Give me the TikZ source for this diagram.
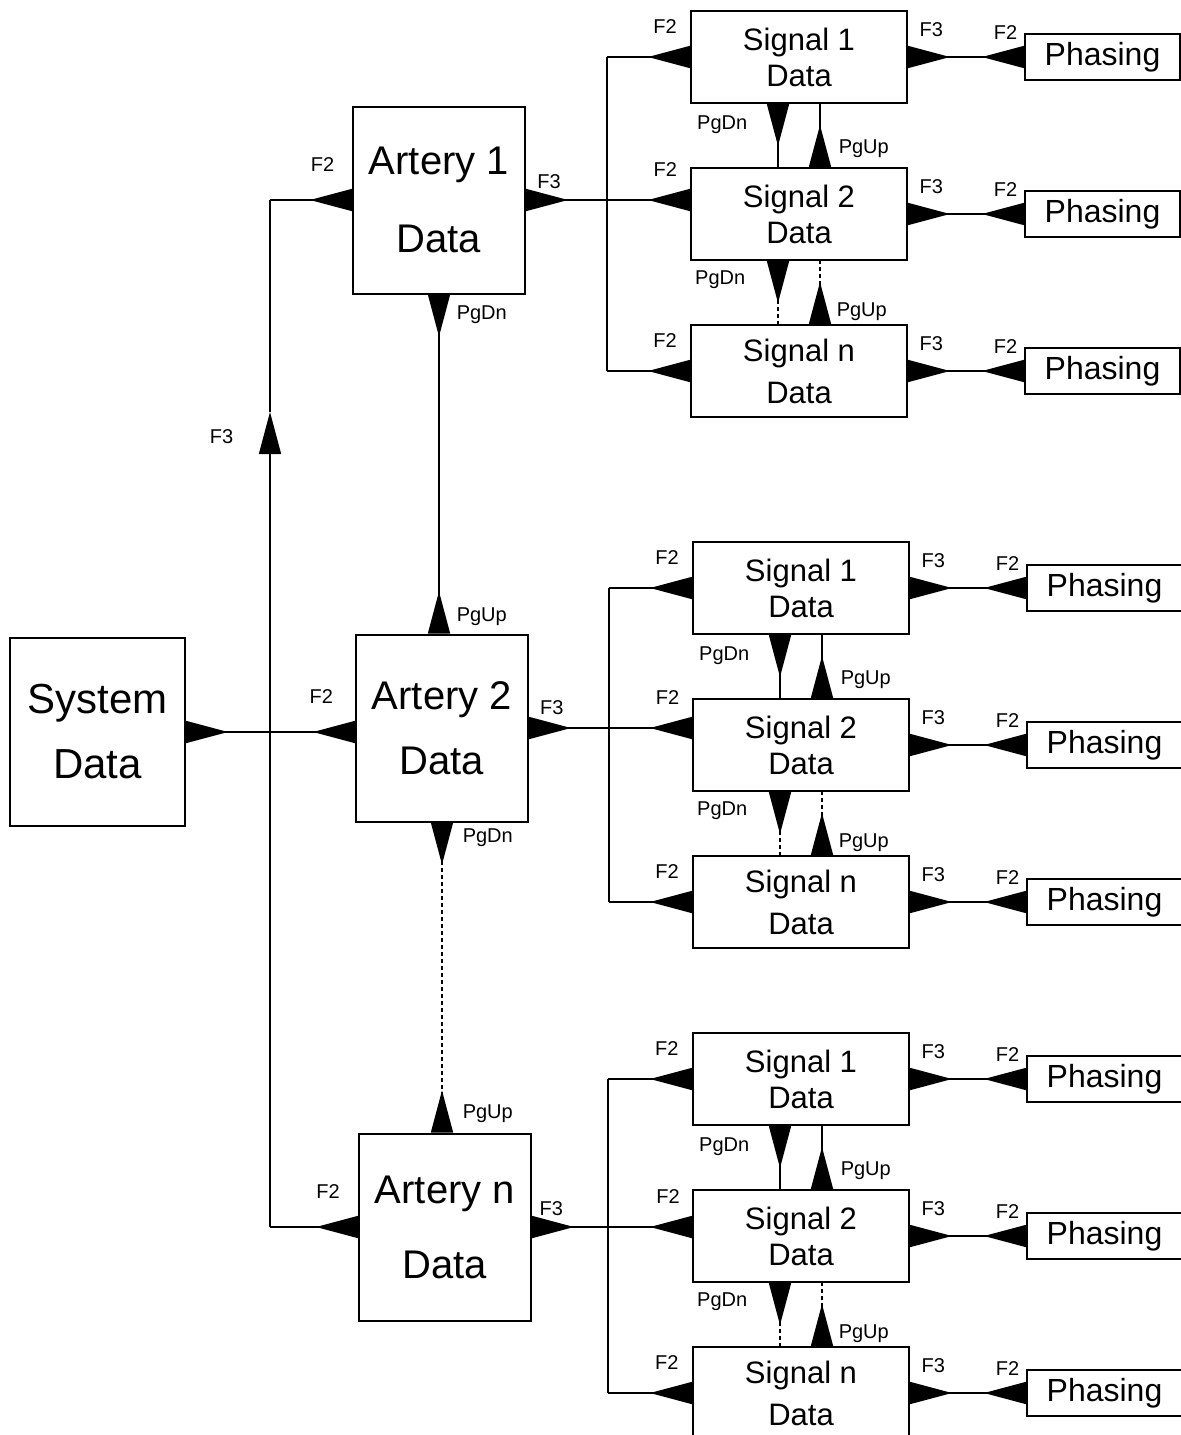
\documentclass[tikz,border=0pt]{standalone}
\usepackage{fontspec}
\setmainfont{Liberation Sans}
\usetikzlibrary{arrows.meta, positioning}
\tikzset{
    sysbox/.style={draw, rectangle, minimum width=87.5pt, minimum height=94pt, align=center, line width=1pt, font=\fontsize{21}{32.5}\selectfont},
    artery/.style={draw, rectangle, minimum width=86pt, minimum height=93.5pt, align=center, line width=1pt, font=\fontsize{20}{32.5}\selectfont},
    signal/.style={draw, rectangle, minimum width=108pt, minimum height=46pt, align=center, line width=1pt, font=\fontsize{15.5}{18}\selectfont},
    phasing/.style={draw, rectangle, minimum width=77.5pt, minimum height=23pt, line width=1pt, font=\fontsize{16}{18}\selectfont},
    keylbl/.style={font=\fontsize{10}{12}\selectfont, inner sep=1pt},
    wire/.style={line width=0.75pt},
    oneway/.style={{Triangle[reversed, length=21pt, width=11pt]}-, line width=0.75pt},
    twoway/.style={{Triangle[reversed, length=21pt, width=11pt]}-{Triangle[reversed, length=21pt, width=11pt]}, line width=0.75pt},
    dotline/.style={dash pattern=on 2pt off 1.5pt}
}
\begin{document}
\begin{tikzpicture}[x=0.5pt, y=-0.5pt, node distance=31.5pt and 58pt]
        \useasboundingbox (0,0) rectangle (1180,1435);

        % Sistema e arterie
        \node (sys) [sysbox] at (97.5,732) {System\\Data};
        \node (art1) [artery] at (439,200) {Artery 1\\[6.5pt]Data};
        \node (art2) [artery] at (442,728) {Artery 2\\Data};
        \node (artn) [artery] at (445,1227) {Artery n\\[5pt]Data};

        % Gruppo 1
        \node (sig11) [signal] at (799,57) {Signal 1\\Data};
        \node (sig12) [signal, below=of sig11] {Signal 2\\Data};
        \node (sig1n) [signal, below=of sig12] {Signal n\\[3pt]Data};
        \node (ph11) [phasing, right=of sig11] {Phasing};
        \node (ph12) [phasing, right=of sig12] {Phasing};
        \node (ph1n) [phasing, right=of sig1n] {Phasing};

        % Gruppo 2
        \node (sig21) [signal] at (801,588) {Signal 1\\Data};
        \node (sig22) [signal, below=of sig21] {Signal 2\\Data};
        \node (sig2n) [signal, below=of sig22] {Signal n\\[3pt]Data};
        \node (ph21) [phasing, right=of sig21] {Phasing};
        \node (ph22) [phasing, right=of sig22] {Phasing};
        \node (ph2n) [phasing, right=of sig2n] {Phasing};

        % Gruppo 3
        \node (sig31) [signal] at (801,1079) {Signal 1\\Data};
        \node (sig32) [signal, below=of sig31] {Signal 2\\Data};
        \node (sig3n) [signal, below=of sig32] {Signal n\\[3pt]Data};
        \node (ph31) [phasing, right=of sig31] {Phasing};
        \node (ph32) [phasing, right=of sig32] {Phasing};
        \node (ph3n) [phasing, right=of sig3n] {Phasing};

        % Bus verticali
        \coordinate (lbus) at (270,732);
        \coordinate (up) at (270,412);
        \coordinate (bus1) at (607,200);
        \coordinate (bus2) at (609,733);
        \coordinate (bus3) at (608,1222);

        % Connessioni a sinistra
        \draw [twoway] (sys.east) -- node [keylbl, pos=0.8, above=13pt] {F2} (sys.east -| art2.west);
        \draw [oneway] (art1.west) -- node [keylbl, pos=0.36, above=13pt] {F2} (lbus |- art1.west);
        \draw [oneway] (artn.west) -- node [keylbl, pos=0.34, above=13pt] {F2} (lbus |- artn.west);
        \draw [wire, -{Triangle[length=21pt, width=11pt]}] (lbus |- artn.west) -- node [keylbl, pos=0.97, left=17pt] {F3} (up);
        \draw [wire] (up) -- (lbus |- art1.west);

        % Arterie in verticale
        \draw [twoway] (art1.south) -- node [keylbl, pos=0.06, right=7.5pt] {PgDn} node [keylbl, pos=0.95, right=7.5pt] {PgUp} (art1.south |- art2.north);
        \draw [twoway, dotline] (art2.south) -- node [keylbl, pos=0.05, right=9pt] {PgDn} node [keylbl, pos=0.94, right=9pt] {PgUp} (art2.south |- artn.north);

        % Arteria 1 verso i segnali
        \draw [twoway] (art1.east) -- node [keylbl, pos=0.14, above=4.5pt] {F3} node [keylbl, pos=0.85, above=10.5pt] {F2} (art1.east -| sig12.west);
        \draw [wire] (bus1 |- sig11.west) -- (bus1 |- sig1n.west);
        \draw [oneway] (sig11.west) -- node [keylbl, pos=0.3, above=10.5pt] {F2} (bus1 |- sig11.west);
        \draw [oneway] (sig1n.west) -- node [keylbl, pos=0.3, above=10.5pt] {F2} (bus1 |- sig1n.west);
        \draw [oneway] ([xshift=-10.5pt]sig11.south) -- node [keylbl, pos=0.33, left=14pt] {PgDn} ([xshift=-10.5pt]sig11.south |- sig12.north);
        \draw [oneway] ([xshift=10.5pt]sig12.north) -- node [keylbl, pos=0.29, right=8pt] {PgUp} ([xshift=10.5pt]sig12.north |- sig11.south);
        \draw [oneway, dotline] ([xshift=-10.5pt]sig12.south) -- node [keylbl, pos=0.3, left=15pt] {PgDn} ([xshift=-10.5pt]sig12.south |- sig1n.north);
        \draw [oneway, dotline] ([xshift=10.5pt]sig1n.north) -- node [keylbl, pos=0.2, right=7pt] {PgUp} ([xshift=10.5pt]sig1n.north |- sig12.south);
        \draw [twoway] (sig11.east) -- node [keylbl, pos=0.2, above=9pt] {F3} node [keylbl, pos=0.84, above=7.5pt] {F2} (sig11.east -| ph11.west);
        \draw [twoway] (sig12.east) -- node [keylbl, pos=0.2, above=9pt] {F3} node [keylbl, pos=0.84, above=7.5pt] {F2} (sig12.east -| ph12.west);
        \draw [twoway] (sig1n.east) -- node [keylbl, pos=0.2, above=9pt] {F3} node [keylbl, pos=0.84, above=7.5pt] {F2} (sig1n.east -| ph1n.west);

        % Arteria 2 verso i segnali
        \draw [twoway] (art2.east) -- node [keylbl, pos=0.14, above=5.5pt] {F3} node [keylbl, pos=0.85, above=10.5pt] {F2} (art2.east -| sig22.west);
        \draw [wire] (bus2 |- sig21.west) -- (bus2 |- sig2n.west);
        \draw [oneway] (sig21.west) -- node [keylbl, pos=0.3, above=10.5pt] {F2} (bus2 |- sig21.west);
        \draw [oneway] (sig2n.west) -- node [keylbl, pos=0.3, above=10.5pt] {F2} (bus2 |- sig2n.west);
        \draw [oneway] ([xshift=-10.5pt]sig21.south) -- node [keylbl, pos=0.33, left=14pt] {PgDn} ([xshift=-10.5pt]sig21.south |- sig22.north);
        \draw [oneway] ([xshift=10.5pt]sig22.north) -- node [keylbl, pos=0.29, right=8pt] {PgUp} ([xshift=10.5pt]sig22.north |- sig21.south);
        \draw [oneway, dotline] ([xshift=-10.5pt]sig22.south) -- node [keylbl, pos=0.3, left=15pt] {PgDn} ([xshift=-10.5pt]sig22.south |- sig2n.north);
        \draw [oneway, dotline] ([xshift=10.5pt]sig2n.north) -- node [keylbl, pos=0.2, right=7pt] {PgUp} ([xshift=10.5pt]sig2n.north |- sig22.south);
        \draw [twoway] (sig21.east) -- node [keylbl, pos=0.2, above=9pt] {F3} node [keylbl, pos=0.84, above=7.5pt] {F2} (sig21.east -| ph21.west);
        \draw [twoway] (sig22.east) -- node [keylbl, pos=0.2, above=9pt] {F3} node [keylbl, pos=0.84, above=7.5pt] {F2} (sig22.east -| ph22.west);
        \draw [twoway] (sig2n.east) -- node [keylbl, pos=0.2, above=9pt] {F3} node [keylbl, pos=0.84, above=7.5pt] {F2} (sig2n.east -| ph2n.west);

        % Arteria n verso i segnali
        \draw [twoway] (artn.east) -- node [keylbl, pos=0.12, above=4.5pt] {F3} node [keylbl, pos=0.85, above=10.5pt] {F2} (artn.east -| sig32.west);
        \draw [wire] (bus3 |- sig31.west) -- (bus3 |- sig3n.west);
        \draw [oneway] (sig31.west) -- node [keylbl, pos=0.3, above=10.5pt] {F2} (bus3 |- sig31.west);
        \draw [oneway] (sig3n.west) -- node [keylbl, pos=0.3, above=10.5pt] {F2} (bus3 |- sig3n.west);
        \draw [oneway] ([xshift=-10.5pt]sig31.south) -- node [keylbl, pos=0.33, left=14pt] {PgDn} ([xshift=-10.5pt]sig31.south |- sig32.north);
        \draw [oneway] ([xshift=10.5pt]sig32.north) -- node [keylbl, pos=0.29, right=8pt] {PgUp} ([xshift=10.5pt]sig32.north |- sig31.south);
        \draw [oneway, dotline] ([xshift=-10.5pt]sig32.south) -- node [keylbl, pos=0.3, left=15pt] {PgDn} ([xshift=-10.5pt]sig32.south |- sig3n.north);
        \draw [oneway, dotline] ([xshift=10.5pt]sig3n.north) -- node [keylbl, pos=0.2, right=7pt] {PgUp} ([xshift=10.5pt]sig3n.north |- sig32.south);
        \draw [twoway] (sig31.east) -- node [keylbl, pos=0.2, above=9pt] {F3} node [keylbl, pos=0.84, above=7.5pt] {F2} (sig31.east -| ph31.west);
        \draw [twoway] (sig32.east) -- node [keylbl, pos=0.2, above=9pt] {F3} node [keylbl, pos=0.84, above=7.5pt] {F2} (sig32.east -| ph32.west);
        \draw [twoway] (sig3n.east) -- node [keylbl, pos=0.2, above=9pt] {F3} node [keylbl, pos=0.84, above=7.5pt] {F2} (sig3n.east -| ph3n.west);

    \end{tikzpicture}
\end{document}
